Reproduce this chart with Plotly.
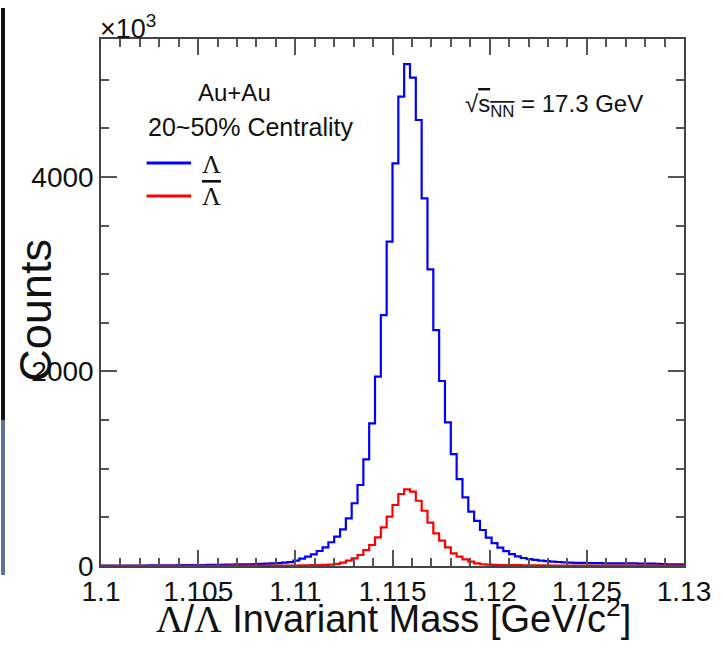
import numpy as np
import plotly.graph_objects as go

# Histogram definition: 100 bins from 1.1 to 1.13 GeV/c^2 (values in units of 10^3 counts)
x_min, x_max, n_bins = 1.1, 1.13, 100

lambda_counts = [
    4, 4, 4, 4, 4, 5, 5, 5, 6, 6,
    6, 7, 7, 8, 8, 9, 10, 10, 11, 12,
    13, 14, 15, 16, 17, 18, 20, 22, 24, 27,
    30, 34, 40, 55, 75, 96, 120, 154, 192, 244,
    301, 377, 490, 645, 833, 1097, 1467, 1946, 2580, 3334,
    4140, 4825, 5160, 5020, 4585, 3780, 3050, 2426, 1902, 1477,
    1151, 894, 706, 558, 463, 370, 291, 235, 188, 152,
    123, 99, 82, 70, 62, 56, 50, 45, 41, 38,
    35, 33, 32, 31, 30, 29, 28, 28, 27, 27,
    26, 26, 25, 25, 24, 23, 20, 18, 17, 16,
]

antilambda_counts = [
    1, 1, 1, 1, 1, 1, 1, 1, 1, 1,
    1, 1, 2, 2, 2, 2, 2, 2, 2, 2,
    2, 2, 3, 3, 3, 3, 3, 3, 3, 4,
    4, 4, 5, 5, 6, 7, 8, 10, 12, 15,
    22, 34, 55, 79, 113, 164, 216, 295, 398, 507,
    627, 740, 788, 764, 671, 568, 445, 336, 260, 192,
    130, 96, 69, 44, 28, 18, 14, 12, 10, 9,
    8, 8, 7, 7, 6, 6, 6, 5, 5, 5,
    5, 5, 4, 4, 4, 4, 4, 4, 4, 4,
    3, 3, 3, 3, 3, 3, 3, 3, 3, 3,
]

x_tick_vals = [1.1, 1.105, 1.11, 1.115, 1.12, 1.125, 1.13]
x_tick_text = ["1.1", "1.105", "1.11", "1.115", "1.12", "1.125", "1.13"]
y_tick_vals = [0, 2000, 4000]
y_tick_text = ["0", "2000", "4000"]
y_max = 5418

edges = np.linspace(x_min, x_max, n_bins + 1)

def step_xy(counts):
    y = list(counts) + [counts[-1]]
    return edges, y

SANS = "Liberation Sans, Arial, Helvetica, sans-serif"
SERIF = "Liberation Serif, Times New Roman, serif"

fig = go.Figure()
for counts, color in [(lambda_counts, "#0000ff"), (antilambda_counts, "#ff0000")]:
    xs, ys = step_xy(counts)
    fig.add_trace(go.Scatter(x=xs, y=ys, mode="lines", line=dict(color=color, width=2.2, shape="hv"),
                             showlegend=False, hoverinfo="skip"))

L = 101; R = 690; T = 39; B = 566
W = R - L; H = B - T
def px(xp):
    return (xp - L) / W
def py(yp):
    return (B - yp) / H

axis_common = dict(showline=True, linecolor="#444", linewidth=1.5, mirror="ticks",
                   ticks="inside", ticklen=16, tickwidth=1.5, tickcolor="#555",
                   showgrid=False, zeroline=False,
                   tickfont=dict(family=SANS, size=28, color="#111"))

fig.update_xaxes(range=[x_min, x_max], tickmode="array", tickvals=x_tick_vals, ticktext=x_tick_text,
                 minor=dict(tickmode="linear", tick0=x_min, dtick=0.001, ticks="inside", ticklen=8,
                            tickwidth=1.5, tickcolor="#555", showgrid=False),
                 **axis_common)
fig.update_yaxes(range=[0, y_max], tickmode="array", tickvals=y_tick_vals, ticktext=y_tick_text,
                 minor=dict(tickmode="linear", tick0=0, dtick=500, ticks="inside", ticklen=8,
                            tickwidth=1.5, tickcolor="#555", showgrid=False),
                 **axis_common)

ann = []
lam = f"<span style='font-family:{SERIF}'>Λ</span>"
ann.append(dict(text=f"{lam}/{lam} Invariant Mass [GeV/c<sup>2</sup>]", x=px(397), y=py(616),
                xref="paper", yref="paper", showarrow=False, xanchor="center", yanchor="middle",
                font=dict(family=SANS, size=38, color="#111")))
ann.append(dict(text="Counts", x=px(35), y=py(310), xref="paper", yref="paper", showarrow=False,
                textangle=-90, xanchor="center", yanchor="middle",
                font=dict(family=SANS, size=45, color="#111")))
ann.append(dict(text="×10<sup>3</sup>", x=px(98), y=py(27), xref="paper", yref="paper", showarrow=False,
                xanchor="left", yanchor="middle", font=dict(family=SANS, size=27, color="#111")))
ann.append(dict(text="Au+Au", x=px(236), y=py(93), xref="paper", yref="paper", showarrow=False,
                xanchor="center", yanchor="middle", font=dict(family=SANS, size=24, color="#111")))
ann.append(dict(text="20~50% Centrality", x=px(252), y=py(127), xref="paper", yref="paper", showarrow=False,
                xanchor="center", yanchor="middle", font=dict(family=SANS, size=25, color="#111")))
ann.append(dict(text="Λ", x=px(201), y=py(164), xref="paper", yref="paper", showarrow=False,
                xanchor="left", yanchor="middle", font=dict(family=SERIF, size=26, color="#111")))
ann.append(dict(text="<span style='text-decoration:overline'>Λ</span>", x=px(201), y=py(196),
                xref="paper", yref="paper", showarrow=False,
                xanchor="left", yanchor="middle", font=dict(family=SERIF, size=26, color="#111")))
ann.append(dict(text="√<span style='text-decoration:overline'>s<sub>NN</sub></span> = 17.3 GeV",
                x=px(467), y=py(106), xref="paper", yref="paper", showarrow=False,
                xanchor="left", yanchor="middle", font=dict(family=SANS, size=24, color="#111")))

shapes = [
    dict(type="line", xref="paper", yref="paper", x0=px(147), x1=px(192), y0=py(163), y1=py(163),
         line=dict(color="#0000ff", width=3)),
    dict(type="line", xref="paper", yref="paper", x0=px(147), x1=px(192), y0=py(196), y1=py(196),
         line=dict(color="#ff0000", width=3)),
    # overline of the anti-lambda in the x-axis title
    dict(type="line", xref="paper", yref="paper", x0=px(198), x1=px(224), y0=py(600), y1=py(600),
         line=dict(color="#111", width=2)),
    dict(type="rect", xref="paper", yref="paper", x0=px(0), x1=px(4), y0=py(420), y1=py(8),
         line=dict(width=0), fillcolor="#111111", layer="above"),
    dict(type="rect", xref="paper", yref="paper", x0=px(0), x1=px(4), y0=py(575), y1=py(420),
         line=dict(width=0), fillcolor="#5d7190", layer="above"),
]

fig.update_layout(width=723, height=655, margin=dict(l=L, r=723 - R, t=T, b=655 - B),
                  paper_bgcolor="white", plot_bgcolor="white",
                  annotations=ann, shapes=shapes, showlegend=False)

fig.write_html("out.html")
